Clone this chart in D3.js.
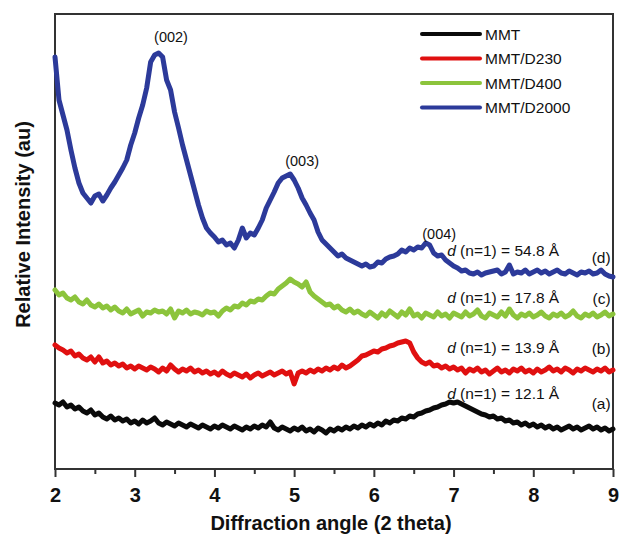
<!DOCTYPE html>
<html>
<head>
<meta charset="utf-8">
<script src="https://cdn.jsdelivr.net/npm/d3@7"></script>
<style>
  html, body { margin: 0; padding: 0; background: #fff; }
  svg { display: block; font-family: "Liberation Sans", Arial, Helvetica, sans-serif; }
</style>
</head>
<body>
<svg id="chart" width="619" height="534"></svg>
<script>
// ---------- data ----------
const angleStart = 2, angleStep = 0.05, nPoints = 141;   // 2θ sampling grid 2 .. 9
const seriesNames = ["MMT", "MMT/D230", "MMT/D400", "MMT/D2000"];
const curveTags = ["(a)", "(b)", "(c)", "(d)"];
const dSpacing = ["12.1", "13.9", "17.8", "54.8"];
const peakLabels = ["(002)", "(003)", "(004)"];
const xTicks = [2, 3, 4, 5, 6, 7, 8, 9];

// relative intensity (au), one value per 0.05° from 2.00 to 9.00
const mmt = [
  66, 64, 67, 62, 64, 60, 62, 58, 56, 59,
  54, 56, 52, 50, 53, 49, 51, 48, 50, 46,
  48, 45, 49, 46, 48, 51, 46, 44, 47, 45,
  43, 46, 44, 42, 45, 43, 41, 44, 42, 40,
  43, 41, 44, 42, 40, 43, 41, 39, 42, 40,
  43, 41, 44, 42, 47, 41, 39, 42, 40, 38,
  41, 39, 42, 38, 40, 37, 41, 39, 36, 40,
  38, 41, 39, 42, 40, 43, 41, 44, 42, 45,
  43, 46, 44, 48, 46, 49, 48, 51, 50, 53,
  52, 55, 56, 58, 59, 61, 62, 64, 65, 67,
  66, 67, 65, 63, 61, 59, 57, 55, 54, 52,
  53, 50, 51, 48, 49, 46, 47, 44, 46, 43,
  45, 42, 44, 41, 43, 40, 42, 39, 41, 43,
  40, 42, 39, 41, 43, 40, 42, 39, 41, 38,
  40
];
const mmtD230 = [
  124, 121, 119, 116, 118, 113, 115, 111, 109, 112,
  107, 112, 106, 108, 104, 106, 103, 105, 101, 103,
  100, 103, 101, 99, 102, 100, 97, 101, 98, 104,
  100, 97, 100, 98, 101, 97, 99, 96, 98, 95,
  97, 94, 98, 95, 93, 96, 94, 92, 95, 91,
  94, 96, 93, 95, 97, 94, 96, 98, 95, 97,
  85, 96, 98, 96, 99, 97, 100, 98, 101, 99,
  102, 100, 104, 101, 103, 106, 109, 113, 114, 116,
  118, 117, 120, 121, 123, 124, 126, 127, 128, 126,
  117, 111, 107, 105, 107, 103, 104, 101, 103, 100,
  102, 99, 101, 96, 100, 98, 101, 97, 99, 95,
  98, 101, 97, 99, 96, 100, 98, 101, 97, 99,
  96, 100, 97, 99, 102, 98, 100, 97, 101, 99,
  96, 100, 98, 101, 99, 97, 100, 98, 101, 97,
  99
];
const mmtD400 = [
  179, 174, 176, 171, 169, 172, 167, 165, 169, 164,
  162, 165, 161, 163, 159, 162, 158, 156, 160, 155,
  157, 159, 153, 157, 156, 159, 157, 158, 155, 160,
  151, 158, 156, 159, 155, 157, 156, 154, 158, 156,
  157, 153, 158, 161, 159, 163, 162, 166, 164, 168,
  167, 170, 169, 173, 176, 175, 180, 183, 186, 190,
  187, 185, 182, 187, 177, 173, 170, 167, 164, 165,
  161, 163, 159, 157, 160, 156, 158, 155, 153, 157,
  154, 151, 156, 153, 158, 155, 152, 157, 154, 160,
  153, 155, 151, 156, 154, 152, 157, 153, 155, 151,
  156, 154, 152, 157, 153, 155, 159, 153, 151, 156,
  154, 152, 157, 153, 160, 154, 151, 155, 153, 156,
  152, 154, 157, 153, 151, 155, 153, 156, 152, 154,
  158, 153, 151, 155, 153, 156, 152, 154, 157, 153,
  155
];
const mmtD2000 = [
  412, 369, 354, 339, 319, 301, 286, 276, 271, 266,
  273, 275, 268, 274, 281, 287, 294, 301, 309, 324,
  336, 351, 364, 381, 407, 414, 416, 412, 389, 379,
  357, 341, 324, 309, 294, 279, 264, 251, 241, 236,
  232, 227, 229, 224, 226, 221, 229, 241, 231, 236,
  234, 241, 249, 261, 269, 277, 286, 291, 293, 295,
  289, 281, 271, 264, 256, 249, 237, 229, 225, 221,
  217, 213, 215, 211, 209, 207, 205, 203, 205, 202,
  203, 207, 206, 210, 212, 213, 215, 219, 217, 221,
  219, 222, 221, 226, 224, 216, 213, 214, 209, 206,
  203, 201, 198, 199, 196, 195, 197, 194, 196, 197,
  198, 199, 195, 197, 204, 195, 197, 196, 199, 195,
  197, 199, 196, 198, 195, 197, 199, 196, 195, 198,
  196, 194, 197, 196, 198, 195, 196, 199, 195, 193,
  192
];

// ---------- layout ----------
const W = 619, H = 534;
const margin = { left: 55, right: 6, top: 14, bottom: 65 };
const colors = ["#0a0a0a", "#e01010", "#8cc43c", "#2c3a9a"];
const seriesValues = [mmt, mmtD230, mmtD400, mmtD2000];
const angles = d3.range(nPoints).map(i => +(angleStart + i * angleStep).toFixed(2));

const svg = d3.select("#chart");
const x = d3.scaleLinear().domain([2, 9]).range([margin.left, W - margin.right]);
const y = d3.scaleLinear().domain([0, 455]).range([H - margin.bottom, margin.top]);

// frame
svg.append("rect")
  .attr("x", x(2)).attr("y", y(455))
  .attr("width", x(9) - x(2)).attr("height", y(0) - y(455))
  .attr("fill", "none").attr("stroke", "#333").attr("stroke-width", 2);

// x axis with major + minor ticks
const xAxisMinor = d3.axisBottom(x).tickValues(d3.range(2.5, 9, 1)).tickSize(5).tickFormat("");
const xAxisMajor = d3.axisBottom(x).tickValues(xTicks).tickSize(8).tickPadding(11).tickFormat(d3.format("d"));
const gMinor = svg.append("g").attr("transform", `translate(0,${y(0)})`).call(xAxisMinor);
const gMajor = svg.append("g").attr("transform", `translate(0,${y(0)})`).call(xAxisMajor);
[gMinor, gMajor].forEach(g => {
  g.select(".domain").remove();
  g.selectAll(".tick line").attr("stroke", "#333").attr("stroke-width", 2);
});
gMajor.selectAll(".tick text")
  .attr("fill", "#111").attr("font-size", 20).attr("font-weight", "bold")
  .attr("font-family", "'Liberation Sans', Arial, sans-serif");

// axis titles
svg.append("text")
  .attr("x", (x(2) + x(9)) / 2 - 3).attr("y", 530)
  .attr("text-anchor", "middle").attr("font-size", 20).attr("font-weight", "bold").attr("fill", "#111")
  .text("Diffraction angle (2 theta)");
svg.append("text")
  .attr("transform", `translate(30,${(y(0) + y(455)) / 2 - 17}) rotate(-90)`)
  .attr("text-anchor", "middle").attr("font-size", 20).attr("font-weight", "bold").attr("fill", "#111")
  .text("Relative Intensity (au)");

// curves
const line = d3.line().x((d, i) => x(angles[i])).y(d => y(d));
seriesValues.forEach((vals, k) => {
  svg.append("path")
    .datum(vals)
    .attr("d", line)
    .attr("fill", "none")
    .attr("stroke", colors[k])
    .attr("stroke-width", 5)
    .attr("stroke-linejoin", "round")
    .attr("stroke-linecap", "round");
});

// legend
const legend = svg.append("g");
seriesNames.forEach((name, k) => {
  const ly = 34 + k * 24.5;
  legend.append("line")
    .attr("x1", 422).attr("x2", 480).attr("y1", ly).attr("y2", ly)
    .attr("stroke", colors[k]).attr("stroke-width", 4).attr("stroke-linecap", "round");
  legend.append("text")
    .attr("x", 485).attr("y", ly).attr("dy", "0.36em")
    .attr("font-size", 15.5).attr("fill", "#111").text(name);
});

// peak labels
const peakPos = [[3.455, 432], [5.10, 308], [6.82, 235]];
peakLabels.forEach((t, i) => {
  svg.append("text")
    .attr("x", x(peakPos[i][0])).attr("y", y(peakPos[i][1])).attr("dy", "0.36em")
    .attr("text-anchor", "middle").attr("font-size", 14.5).attr("fill", "#111").text(t);
});

// d-spacing labels and curve tags
const dPosY = [76, 122, 172, 219];
const tagPosY = [66, 121, 171, 212];
dSpacing.forEach((v, k) => {
  const t = svg.append("text")
    .attr("x", x(6.92)).attr("y", y(dPosY[k])).attr("dy", "0.36em")
    .attr("font-size", 15.5).attr("fill", "#111");
  t.append("tspan").attr("font-style", "italic").text("d");
  t.append("tspan").text(` (n=1) = ${v} Å`);
  svg.append("text")
    .attr("x", x(8.97)).attr("y", y(tagPosY[k])).attr("dy", "0.36em")
    .attr("text-anchor", "end").attr("font-size", 15.5).attr("fill", "#111").text(curveTags[k]);
});
</script>
</body>
</html>
